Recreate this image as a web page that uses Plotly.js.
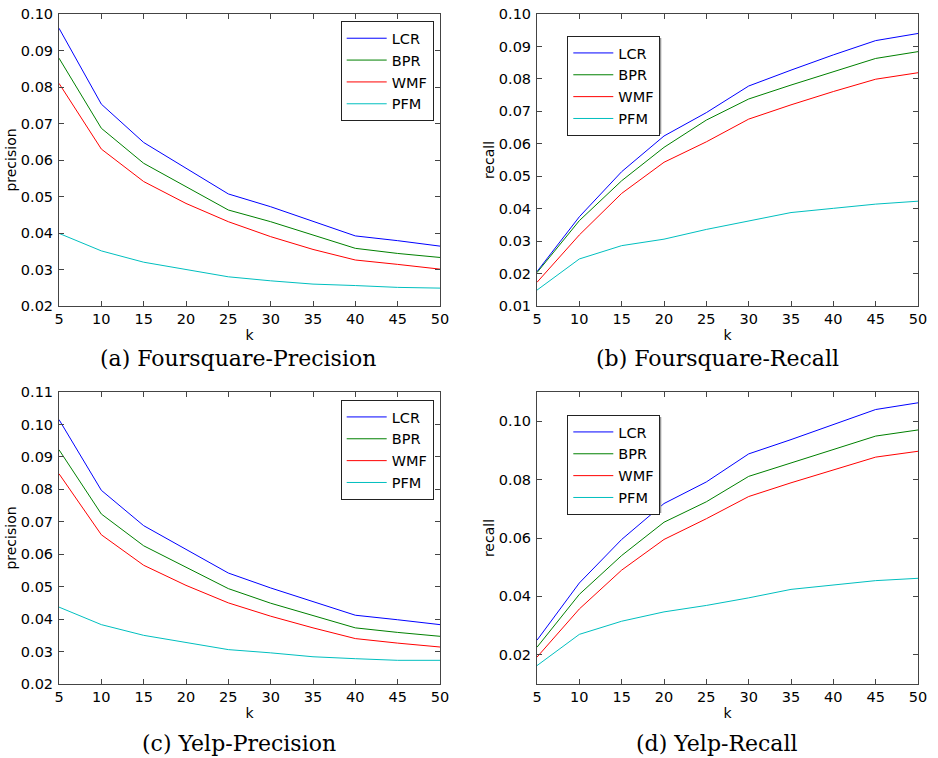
<!DOCTYPE html>
<html>
<head>
<meta charset="utf-8">
<script src="https://cdn.plot.ly/plotly-3.0.1.min.js"></script>
<style>html,body{margin:0;padding:0;background:#fff;}#chart{width:938px;height:758px;}</style>
</head>
<body>
<div id="chart"></div>
<script>
// ---- data ----
const k = [5, 10, 15, 20, 25, 30, 35, 40, 45, 50];
const methods = ["LCR", "BPR", "WMF", "PFM"];

// (a) Foursquare-Precision
const fsPrecLCR = [0.0961, 0.0753, 0.0648, 0.0577, 0.0507, 0.0472, 0.0432, 0.0392, 0.0379, 0.0364];
const fsPrecBPR = [0.0879, 0.0687, 0.0591, 0.0527, 0.0463, 0.0431, 0.0395, 0.0358, 0.0344, 0.0333];
const fsPrecWMF = [0.0810, 0.0630, 0.0541, 0.0481, 0.0431, 0.0390, 0.0355, 0.0326, 0.0314, 0.0301];
const fsPrecPFM = [0.0399, 0.0351, 0.0320, 0.0300, 0.0280, 0.0269, 0.0260, 0.0256, 0.0251, 0.0249];

// (b) Foursquare-Recall
const fsRecLCR = [0.0206, 0.0375, 0.0514, 0.0624, 0.0696, 0.0778, 0.0827, 0.0874, 0.0918, 0.0940];
const fsRecBPR = [0.0203, 0.0363, 0.0486, 0.0589, 0.0673, 0.0738, 0.0781, 0.0822, 0.0863, 0.0884];
const fsRecWMF = [0.0173, 0.0319, 0.0447, 0.0543, 0.0606, 0.0676, 0.0720, 0.0761, 0.0799, 0.0819];
const fsRecPFM = [0.0149, 0.0245, 0.0286, 0.0306, 0.0336, 0.0363, 0.0388, 0.0401, 0.0414, 0.0423];

// (c) Yelp-Precision
const ypPrecLCR = [0.1015, 0.0797, 0.0688, 0.0616, 0.0542, 0.0496, 0.0453, 0.0412, 0.0398, 0.0383];
const ypPrecBPR = [0.0922, 0.0724, 0.0626, 0.0561, 0.0494, 0.0449, 0.0412, 0.0373, 0.0359, 0.0347];
const ypPrecWMF = [0.0848, 0.0660, 0.0566, 0.0504, 0.0450, 0.0409, 0.0373, 0.0340, 0.0326, 0.0314];
const ypPrecPFM = [0.0437, 0.0383, 0.0350, 0.0328, 0.0306, 0.0296, 0.0284, 0.0278, 0.0273, 0.0273];

// (d) Yelp-Recall
const ypRecLCR = [0.0250, 0.0446, 0.0595, 0.0718, 0.0792, 0.0888, 0.0937, 0.0989, 0.1040, 0.1063];
const ypRecBPR = [0.0226, 0.0407, 0.0540, 0.0654, 0.0724, 0.0811, 0.0857, 0.0903, 0.0949, 0.0970];
const ypRecWMF = [0.0192, 0.0357, 0.0490, 0.0595, 0.0666, 0.0742, 0.0789, 0.0832, 0.0877, 0.0897];
const ypRecPFM = [0.0163, 0.0270, 0.0315, 0.0347, 0.0369, 0.0395, 0.0424, 0.0438, 0.0454, 0.0462];

const captions = ["(a) Foursquare-Precision", "(b) Foursquare-Recall", "(c) Yelp-Precision", "(d) Yelp-Recall"];
const yTitles = ["precision", "recall", "precision", "recall"];
const xTitle = "k";

// ---- build ----
const colors = ["#0000ff", "#008000", "#ff0000", "#00bfbf"];
const panels = [
  [fsPrecLCR, fsPrecBPR, fsPrecWMF, fsPrecPFM],
  [fsRecLCR, fsRecBPR, fsRecWMF, fsRecPFM],
  [ypPrecLCR, ypPrecBPR, ypPrecWMF, ypPrecPFM],
  [ypRecLCR, ypRecBPR, ypRecWMF, ypRecPFM]
];
const W = 938, H = 758;
const px = v => v / W, py = v => 1 - v / H;

const traces = [];
panels.forEach((series, p) => {
  const s = p === 0 ? "" : String(p + 1);
  series.forEach((ys, i) => {
    traces.push({
      type: "scatter", mode: "lines", x: k, y: ys, name: methods[i],
      xaxis: "x" + s, yaxis: "y" + s, legend: "legend" + s,
      line: {color: colors[i], width: 1}
    });
  });
});

const font = {family: "DejaVu Sans", size: 14.5, color: "#000"};
const xDom = [[59, 440], [537, 918], [59, 440], [537, 918]];
const yDom = [[14, 306], [14, 306], [392, 684], [392, 684]];
const yRange = [[0.02, 0.10], [0.01, 0.10], [0.02, 0.11], [0.01, 0.11]];
const yDtick = [0.01, 0.01, 0.01, 0.02];
const yTick0 = [0.02, 0.01, 0.02, 0.02];
const legPos = [[340.7, 21.3], [567.3, 36], [340.7, 400], [567.3, 415]];
const legShadow = [false, true, false, true];

const layout = {
  width: W, height: H,
  margin: {l: 0, r: 0, t: 0, b: 0},
  paper_bgcolor: "#fff", plot_bgcolor: "#fff",
  font: font,
  showlegend: true,
  annotations: [],
  shapes: []
};
const axBase = {
  showline: true, linecolor: "#444", linewidth: 1, mirror: "allticks",
  ticks: "inside", ticklen: 5, tickcolor: "#444", tickwidth: 1,
  showgrid: false, zeroline: false, tickfont: font, fixedrange: true
};
for (let p = 0; p < 4; p++) {
  const s = p === 0 ? "" : String(p + 1);
  layout["xaxis" + s] = Object.assign({}, axBase, {
    domain: [px(xDom[p][0]), px(xDom[p][1])],
    anchor: "y" + s, range: [5, 50], tickmode: "linear", tick0: 5, dtick: 5,
    title: {text: xTitle, font: {family: "DejaVu Sans", size: 14, color: "#000"}, standoff: 3}
  });
  layout["yaxis" + s] = Object.assign({}, axBase, {
    domain: [py(yDom[p][1]), py(yDom[p][0])],
    anchor: "x" + s, range: yRange[p], tickmode: "linear", tick0: yTick0[p], dtick: yDtick[p],
    tickformat: ".2f", ticklabelstandoff: 2,
    title: {text: yTitles[p], font: {family: "DejaVu Sans", size: 14, color: "#000"}, standoff: 0}
  });
  layout["legend" + s] = {
    x: px(legPos[p][0]), y: py(legPos[p][1]), xanchor: "left", yanchor: "top",
    xref: "paper", yref: "paper",
    bgcolor: "#fff", bordercolor: "#222", borderwidth: 1,
    font: {family: "DejaVu Sans", size: 14.5, color: "#000"},
    itemwidth: 40, tracegroupgap: 0
  };
  if (legShadow[p]) {
    const x0 = legPos[p][0] + 2, y0 = legPos[p][1] + 2;
    layout.shapes.push({
      type: "rect", xref: "paper", yref: "paper", layer: "above",
      x0: px(x0), x1: px(x0 + 92), y0: py(y0 + 96), y1: py(y0),
      fillcolor: "#9a9a9a", line: {width: 0}
    });
  }
  const capX = [238, 717.5, 239, 717][p];
  const capY = [358, 358, 743, 743][p];
  layout.annotations.push({
    xref: "paper", yref: "paper", x: px(capX), y: py(capY),
    xanchor: "center", yanchor: "middle", showarrow: false,
    text: captions[p],
    font: {family: "DejaVu Serif", size: 22, color: "#000"}
  });
}

Plotly.newPlot("chart", traces, layout, {displayModeBar: false, staticPlot: true});
</script>
</body>
</html>
